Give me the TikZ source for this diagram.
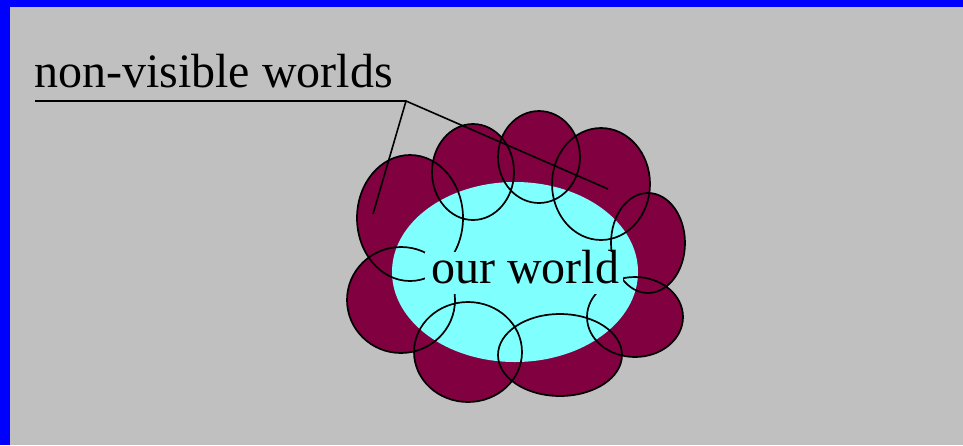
\documentclass[tikz,border=0pt]{standalone}
\usepackage{fontspec}
\setmainfont{Liberation Serif}
\definecolor{bgblue}{HTML}{0000FF}
\definecolor{bggray}{HTML}{C0C0C0}
\definecolor{maroonw}{HTML}{800040}
\definecolor{cyanw}{HTML}{80FFFF}
\tikzset{
  bubble/.style={fill=maroonw},
  rim/.style={draw=black,line width=1.7pt},
  leader/.style={draw=black,line width=1.6pt},
  lbl/.style={font=\fontsize{48}{58}\selectfont,inner sep=0pt,anchor=base west}
}
\begin{document}
\begin{tikzpicture}[x=1pt,y=-1pt]
\useasboundingbox (0,0) rectangle (963,445);
\fill[bgblue] (0,0) rectangle (963,445);
\fill[bggray] (10,7) rectangle (963,445);
% bubbles
\def\bubbles{%
  (410,218) ellipse [x radius=53, y radius=63]
  (473,172) ellipse [x radius=41, y radius=48]
  (539,157) ellipse [x radius=41, y radius=46]
  (601,184) ellipse [x radius=49, y radius=56]
  (648,243) ellipse [x radius=37, y radius=50]
  (635,317) ellipse [x radius=48, y radius=40]
  (560,355) ellipse [x radius=62, y radius=41]
  (468,352) ellipse [x radius=54, y radius=50]
  (401,300) ellipse [x radius=54, y radius=53]}
\expandafter\fill\expandafter[\expandafter b\expandafter u\expandafter b\expandafter b\expandafter l\expandafter e\expandafter]\bubbles;
\fill[cyanw] (515,272) ellipse [x radius=123, y radius=90];
\expandafter\path\expandafter[\expandafter r\expandafter i\expandafter m\expandafter]\bubbles;
% text box of "our world"
\fill[cyanw] (425,252) rectangle (623,294);
\node[lbl] (our) at (431,283) {our world};
\node[lbl] (nonvis) at (34,87) {non-visible worlds};
% leader
\coordinate (ulstart) at (35,101);
\coordinate (knee) at (406,101);
\coordinate (endA) at (373,214);
\coordinate (endB) at (608,189);
\draw[black,line width=2.2pt] (ulstart) -- (knee);
\draw[leader] (endA) -- (knee) -- (endB);
\end{tikzpicture}
\end{document}
